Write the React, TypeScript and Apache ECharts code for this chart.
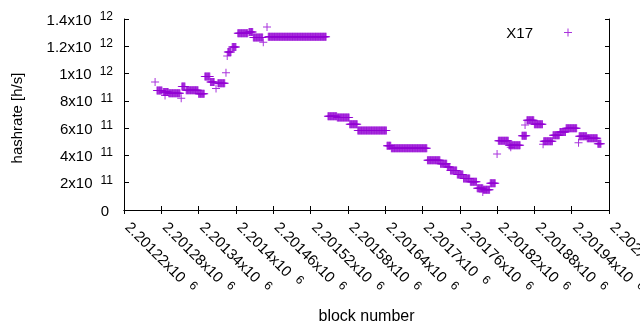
import React, { useEffect, useRef } from "react";
import * as echarts from "echarts";

// Runs of consecutive blocks sharing the same hashrate
const runStart = [2201270, 2201273, 2201283, 2201286, 2201292, 2201312, 2201313, 2201320, 2201340, 2201350, 2201359, 2201368, 2201371, 2201384, 2201386, 2201387, 2201394, 2201403, 2201421, 2201428, 2201444, 2201450, 2201452, 2201548, 2201563, 2201583, 2201596, 2201643, 2201650, 2201708, 2201729, 2201740, 2201745, 2201756, 2201766, 2201777, 2201788, 2201797, 2201798, 2201809, 2201820, 2201822, 2201839, 2201842, 2201860, 2201865, 2201868, 2201880, 2201894, 2201895, 2201910, 2201921, 2201931, 2201951, 2201952, 2201965, 2201982];
const runEnd = [2201270, 2201281, 2201291, 2201286, 2201310, 2201312, 2201318, 2201339, 2201349, 2201358, 2201365, 2201368, 2201382, 2201384, 2201386, 2201392, 2201400, 2201419, 2201427, 2201443, 2201444, 2201450, 2201545, 2201562, 2201582, 2201595, 2201642, 2201649, 2201707, 2201728, 2201739, 2201744, 2201755, 2201765, 2201776, 2201787, 2201797, 2201797, 2201808, 2201817, 2201820, 2201838, 2201857, 2201842, 2201867, 2201865, 2201879, 2201893, 2201894, 2201909, 2201920, 2201930, 2201948, 2201951, 2201964, 2201981, 2201987];
const runHashrate = [9.38e11, 8.76e11, 8.65e11, 8.39e11, 8.55e11, 8.19e11, 9.05e11, 8.78e11, 8.53e11, 9.79e11, 9.38e11, 8.91e11, 9.29e11, 10.06e11, 11.29e11, 11.58e11, 11.95e11, 12.95e11, 13.05e11, 12.64e11, 12.29e11, 13.41e11, 12.70e11, 6.87e11, 6.78e11, 6.28e11, 5.82e11, 4.71e11, 4.52e11, 3.64e11, 3.39e11, 3.15e11, 2.90e11, 2.60e11, 2.31e11, 2.07e11, 1.59e11, 1.32e11, 1.49e11, 1.96e11, 4.10e11, 5.08e11, 4.74e11, 4.60e11, 5.45e11, 6.23e11, 6.57e11, 6.29e11, 4.82e11, 5.04e11, 5.48e11, 5.72e11, 5.99e11, 4.93e11, 5.40e11, 5.26e11, 4.86e11];

const seriesName = "X17";
const xMin = 2201220;
const xMax = 2202000;
const xStep = 60;
const yMin = 0;
const yMax = 1.4e12;
const yStep = 2e11;

const FONT = "'Liberation Sans', Arial, sans-serif";
const PURPLE = "#9400D3";
const PLUS = "path://M-4,-0.5H4V0.5H-4Z M-0.5,-4H0.5V4H-0.5Z";

function sci(v: number): string {
  if (v === 0) return "{z|0}";
  const e = Math.floor(Math.log10(Math.abs(v)) + 1e-9);
  const m = parseFloat((v / Math.pow(10, e)).toFixed(6));
  return `{a|${m}x10}{b|${e}}`;
}

const richY = {
  a: { fontSize: 15, lineHeight: 18, fontFamily: FONT, color: "#000" },
  b: { fontSize: 12, lineHeight: 12, verticalAlign: "top", fontFamily: FONT, color: "#000", padding: [0, 0, 0, 8] },
  z: { fontSize: 15, lineHeight: 18, fontFamily: FONT, color: "#000", padding: [0, 4, 0, 0] },
};
const richX = {
  a: { fontSize: 15, lineHeight: 18, fontFamily: FONT, color: "#000", padding: [0, 0, 0, 6] },
  b: { fontSize: 12, lineHeight: 12, verticalAlign: "top", fontFamily: FONT, color: "#000", padding: [0, 0, 0, 8] },
  z: { fontSize: 15, lineHeight: 18, fontFamily: FONT, color: "#000", padding: [0, 0, 0, 6] },
};

export default function App() {
  const ref = useRef<HTMLDivElement>(null);
  useEffect(() => {
    if (!ref.current) return;
    const chart = echarts.init(ref.current, null, { renderer: "svg" });
    const data: number[][] = [];
    for (let i = 0; i < runStart.length; i++) {
      for (let b = runStart[i]; b <= runEnd[i]; b++) data.push([b, runHashrate[i]]);
    }
    const axisLine = { show: true, lineStyle: { color: "#000", width: 1 } };
    chart.setOption({
      animation: false,
      textStyle: { fontFamily: FONT },
      grid: { left: 124, right: 31, top: 19, bottom: 120, containLabel: false, outerBoundsMode: "none" },
      legend: {
        data: [{ name: seriesName, icon: PLUS }],
        right: 68,
        top: 25,
        align: "right",
        itemWidth: 60,
        itemHeight: 8,
        padding: 0,
        textStyle: { fontSize: 15, fontFamily: FONT, color: "#000" },
      },
      xAxis: [
        {
          type: "value",
          min: xMin,
          max: xMax,
          interval: xStep,
          name: "block number",
          nameLocation: "middle",
          nameGap: 97,
          nameTextStyle: { fontSize: 16, fontFamily: FONT, color: "#000" },
          axisLine,
          axisTick: { show: true, inside: true, length: 4, lineStyle: { color: "#000" } },
          splitLine: { show: false },
          axisLabel: { rotate: -45, margin: 10, formatter: (v: number) => sci(v), rich: richX, showMinLabel: true, showMaxLabel: true },
        },
        {
          type: "value",
          position: "top",
          min: xMin,
          max: xMax,
          interval: xStep,
          axisLine,
          axisTick: { show: true, inside: true, length: 4, lineStyle: { color: "#000" } },
          splitLine: { show: false },
          axisLabel: { show: false },
        },
      ],
      yAxis: [
        {
          type: "value",
          min: yMin,
          max: yMax,
          interval: yStep,
          name: "hashrate [h/s]",
          nameLocation: "middle",
          nameGap: 100,
          nameTextStyle: { fontSize: 15, fontFamily: FONT, color: "#000", padding: [0, 7, 0, 0] },
          axisLine,
          axisTick: { show: true, inside: true, length: 5, lineStyle: { color: "#000" } },
          splitLine: { show: false },
          axisLabel: { margin: 11, formatter: (v: number) => sci(v), rich: richY },
        },
        {
          type: "value",
          position: "right",
          min: yMin,
          max: yMax,
          interval: yStep,
          axisLine,
          axisTick: { show: true, inside: true, length: 4, lineStyle: { color: "#000" } },
          splitLine: { show: false },
          axisLabel: { show: false },
        },
      ],
      series: [
        {
          name: seriesName,
          type: "scatter",
          xAxisIndex: 0,
          yAxisIndex: 0,
          symbol: PLUS,
          symbolSize: 8,
          itemStyle: { color: PURPLE },
          data,
        },
      ],
    });
    return () => chart.dispose();
  }, []);
  return <div ref={ref} style={{ position: "fixed", left: 0, top: 0, width: 640, height: 330 }} />;
}
